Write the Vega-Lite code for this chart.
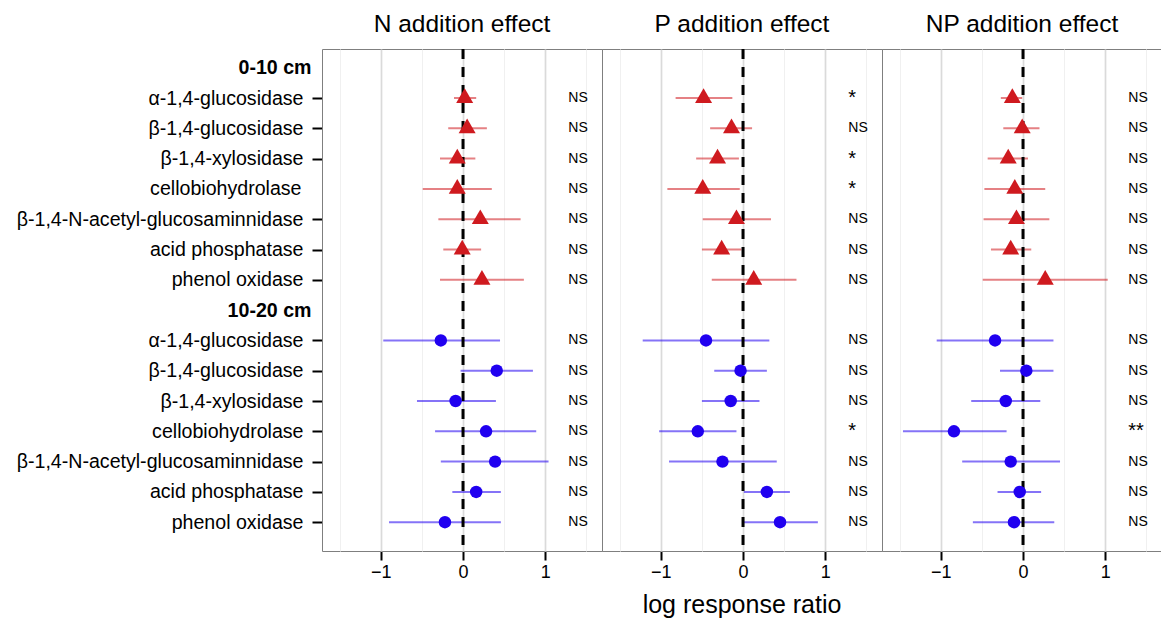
{
  "$schema": "https://vega.github.io/schema/vega-lite/v6.json",
  "padding": {"left": 16, "top": 11, "right": 0, "bottom": 0},
  "bounds": "flush",
  "config": {"font": "Liberation Sans", "view": {"stroke": "#7f7f7f", "strokeWidth": 1}},
  "data": {"values": [
    {"effect": "N addition effect", "depth": "0-10 cm", "row": "0-10 cm|α-1,4-glucosidase", "mean": 0.02, "lo": -0.11, "hi": 0.16, "sig": "NS"},
    {"effect": "N addition effect", "depth": "0-10 cm", "row": "0-10 cm|β-1,4-glucosidase", "mean": 0.05, "lo": -0.18, "hi": 0.29, "sig": "NS"},
    {"effect": "N addition effect", "depth": "0-10 cm", "row": "0-10 cm|β-1,4-xylosidase", "mean": -0.07, "lo": -0.28, "hi": 0.15, "sig": "NS"},
    {"effect": "N addition effect", "depth": "0-10 cm", "row": "0-10 cm|cellobiohydrolase", "mean": -0.07, "lo": -0.49, "hi": 0.35, "sig": "NS"},
    {"effect": "N addition effect", "depth": "0-10 cm", "row": "0-10 cm|β-1,4-N-acetyl-glucosaminnidase", "mean": 0.21, "lo": -0.30, "hi": 0.70, "sig": "NS"},
    {"effect": "N addition effect", "depth": "0-10 cm", "row": "0-10 cm|acid phosphatase", "mean": -0.01, "lo": -0.24, "hi": 0.22, "sig": "NS"},
    {"effect": "N addition effect", "depth": "0-10 cm", "row": "0-10 cm|phenol oxidase", "mean": 0.23, "lo": -0.28, "hi": 0.74, "sig": "NS"},
    {"effect": "N addition effect", "depth": "10-20 cm", "row": "10-20 cm|α-1,4-glucosidase", "mean": -0.27, "lo": -0.97, "hi": 0.45, "sig": "NS"},
    {"effect": "N addition effect", "depth": "10-20 cm", "row": "10-20 cm|β-1,4-glucosidase", "mean": 0.41, "lo": -0.03, "hi": 0.85, "sig": "NS"},
    {"effect": "N addition effect", "depth": "10-20 cm", "row": "10-20 cm|β-1,4-xylosidase", "mean": -0.09, "lo": -0.56, "hi": 0.40, "sig": "NS"},
    {"effect": "N addition effect", "depth": "10-20 cm", "row": "10-20 cm|cellobiohydrolase", "mean": 0.28, "lo": -0.34, "hi": 0.89, "sig": "NS"},
    {"effect": "N addition effect", "depth": "10-20 cm", "row": "10-20 cm|β-1,4-N-acetyl-glucosaminnidase", "mean": 0.39, "lo": -0.27, "hi": 1.04, "sig": "NS"},
    {"effect": "N addition effect", "depth": "10-20 cm", "row": "10-20 cm|acid phosphatase", "mean": 0.16, "lo": -0.13, "hi": 0.46, "sig": "NS"},
    {"effect": "N addition effect", "depth": "10-20 cm", "row": "10-20 cm|phenol oxidase", "mean": -0.22, "lo": -0.90, "hi": 0.46, "sig": "NS"},
    {"effect": "P addition effect", "depth": "0-10 cm", "row": "0-10 cm|α-1,4-glucosidase", "mean": -0.48, "lo": -0.82, "hi": -0.13, "sig": "*"},
    {"effect": "P addition effect", "depth": "0-10 cm", "row": "0-10 cm|β-1,4-glucosidase", "mean": -0.14, "lo": -0.40, "hi": 0.11, "sig": "NS"},
    {"effect": "P addition effect", "depth": "0-10 cm", "row": "0-10 cm|β-1,4-xylosidase", "mean": -0.31, "lo": -0.57, "hi": -0.05, "sig": "*"},
    {"effect": "P addition effect", "depth": "0-10 cm", "row": "0-10 cm|cellobiohydrolase", "mean": -0.49, "lo": -0.92, "hi": -0.04, "sig": "*"},
    {"effect": "P addition effect", "depth": "0-10 cm", "row": "0-10 cm|β-1,4-N-acetyl-glucosaminnidase", "mean": -0.08, "lo": -0.49, "hi": 0.34, "sig": "NS"},
    {"effect": "P addition effect", "depth": "0-10 cm", "row": "0-10 cm|acid phosphatase", "mean": -0.26, "lo": -0.50, "hi": -0.02, "sig": "NS"},
    {"effect": "P addition effect", "depth": "0-10 cm", "row": "0-10 cm|phenol oxidase", "mean": 0.13, "lo": -0.38, "hi": 0.65, "sig": "NS"},
    {"effect": "P addition effect", "depth": "10-20 cm", "row": "10-20 cm|α-1,4-glucosidase", "mean": -0.45, "lo": -1.22, "hi": 0.32, "sig": "NS"},
    {"effect": "P addition effect", "depth": "10-20 cm", "row": "10-20 cm|β-1,4-glucosidase", "mean": -0.03, "lo": -0.35, "hi": 0.29, "sig": "NS"},
    {"effect": "P addition effect", "depth": "10-20 cm", "row": "10-20 cm|β-1,4-xylosidase", "mean": -0.15, "lo": -0.50, "hi": 0.20, "sig": "NS"},
    {"effect": "P addition effect", "depth": "10-20 cm", "row": "10-20 cm|cellobiohydrolase", "mean": -0.55, "lo": -1.02, "hi": -0.08, "sig": "*"},
    {"effect": "P addition effect", "depth": "10-20 cm", "row": "10-20 cm|β-1,4-N-acetyl-glucosaminnidase", "mean": -0.25, "lo": -0.90, "hi": 0.41, "sig": "NS"},
    {"effect": "P addition effect", "depth": "10-20 cm", "row": "10-20 cm|acid phosphatase", "mean": 0.29, "lo": 0.01, "hi": 0.57, "sig": "NS"},
    {"effect": "P addition effect", "depth": "10-20 cm", "row": "10-20 cm|phenol oxidase", "mean": 0.45, "lo": 0.01, "hi": 0.91, "sig": "NS"},
    {"effect": "NP addition effect", "depth": "0-10 cm", "row": "0-10 cm|α-1,4-glucosidase", "mean": -0.13, "lo": -0.27, "hi": -0.01, "sig": "NS"},
    {"effect": "NP addition effect", "depth": "0-10 cm", "row": "0-10 cm|β-1,4-glucosidase", "mean": -0.01, "lo": -0.24, "hi": 0.20, "sig": "NS"},
    {"effect": "NP addition effect", "depth": "0-10 cm", "row": "0-10 cm|β-1,4-xylosidase", "mean": -0.18, "lo": -0.43, "hi": 0.06, "sig": "NS"},
    {"effect": "NP addition effect", "depth": "0-10 cm", "row": "0-10 cm|cellobiohydrolase", "mean": -0.10, "lo": -0.47, "hi": 0.27, "sig": "NS"},
    {"effect": "NP addition effect", "depth": "0-10 cm", "row": "0-10 cm|β-1,4-N-acetyl-glucosaminnidase", "mean": -0.08, "lo": -0.48, "hi": 0.32, "sig": "NS"},
    {"effect": "NP addition effect", "depth": "0-10 cm", "row": "0-10 cm|acid phosphatase", "mean": -0.15, "lo": -0.39, "hi": 0.10, "sig": "NS"},
    {"effect": "NP addition effect", "depth": "0-10 cm", "row": "0-10 cm|phenol oxidase", "mean": 0.27, "lo": -0.49, "hi": 1.03, "sig": "NS"},
    {"effect": "NP addition effect", "depth": "10-20 cm", "row": "10-20 cm|α-1,4-glucosidase", "mean": -0.34, "lo": -1.05, "hi": 0.37, "sig": "NS"},
    {"effect": "NP addition effect", "depth": "10-20 cm", "row": "10-20 cm|β-1,4-glucosidase", "mean": 0.04, "lo": -0.28, "hi": 0.37, "sig": "NS"},
    {"effect": "NP addition effect", "depth": "10-20 cm", "row": "10-20 cm|β-1,4-xylosidase", "mean": -0.21, "lo": -0.63, "hi": 0.21, "sig": "NS"},
    {"effect": "NP addition effect", "depth": "10-20 cm", "row": "10-20 cm|cellobiohydrolase", "mean": -0.84, "lo": -1.46, "hi": -0.20, "sig": "**"},
    {"effect": "NP addition effect", "depth": "10-20 cm", "row": "10-20 cm|β-1,4-N-acetyl-glucosaminnidase", "mean": -0.15, "lo": -0.74, "hi": 0.45, "sig": "NS"},
    {"effect": "NP addition effect", "depth": "10-20 cm", "row": "10-20 cm|acid phosphatase", "mean": -0.04, "lo": -0.31, "hi": 0.22, "sig": "NS"},
    {"effect": "NP addition effect", "depth": "10-20 cm", "row": "10-20 cm|phenol oxidase", "mean": -0.11, "lo": -0.61, "hi": 0.38, "sig": "NS"}
  ]},
  "facet": {
    "column": {
      "field": "effect", "type": "nominal",
      "sort": ["N addition effect", "P addition effect", "NP addition effect"],
      "title": "log response ratio",
      "header": {
        "labelOrient": "top", "titleOrient": "bottom",
        "labelFontSize": 24.5, "labelColor": "black", "labelPadding": 12,
        "titleFontSize": 25, "titleFontWeight": "normal", "titleColor": "black", "titlePadding": 2
      }
    }
  },
  "spacing": 0,
  "spec": {
    "width": 280,
    "height": 502,
    "layer": [
      {
        "mark": {"type": "rule", "strokeWidth": 2, "opacity": 0.55},
        "encoding": {
          "x": {
            "field": "lo", "type": "quantitative", "title": null,
            "scale": {"domain": [-1.715, 1.69], "nice": false, "zero": false},
            "axis": {
              "values": [-1.5, -1, -0.5, 0, 0.5, 1, 1.5],
              "format": "~f",
              "labelExpr": "datum.value % 1 == 0 ? datum.label : ''",
              "gridColor": {"condition": {"test": "datum.value % 1 != 0", "value": "#f0f0f0"}, "value": "#dadada"},
              "gridWidth": {"condition": {"test": "datum.value % 1 != 0", "value": 1}, "value": 1.7},
              "tickOpacity": {"condition": {"test": "datum.value % 1 != 0", "value": 0}, "value": 1},
              "tickSize": 9, "tickWidth": 2, "tickColor": "black",
              "domain": false, "labelFontSize": 18, "labelColor": "black", "labelPadding": 3,
              "labelFlush": false, "labelOverlap": false
            }
          },
          "x2": {"field": "hi"},
          "y": {
            "field": "row", "type": "nominal", "title": null,
            "scale": {
              "type": "point",
              "domain": ["0-10 cm", "0-10 cm|α-1,4-glucosidase", "0-10 cm|β-1,4-glucosidase", "0-10 cm|β-1,4-xylosidase", "0-10 cm|cellobiohydrolase", "0-10 cm|β-1,4-N-acetyl-glucosaminnidase", "0-10 cm|acid phosphatase", "0-10 cm|phenol oxidase", "10-20 cm", "10-20 cm|α-1,4-glucosidase", "10-20 cm|β-1,4-glucosidase", "10-20 cm|β-1,4-xylosidase", "10-20 cm|cellobiohydrolase", "10-20 cm|β-1,4-N-acetyl-glucosaminnidase", "10-20 cm|acid phosphatase", "10-20 cm|phenol oxidase"],
              "padding": 0.784, "align": 0.394
            },
            "axis": {
              "labelExpr": "indexof(datum.value, '|') >= 0 ? split(datum.value, '|')[1] : datum.value",
              "labelFontSize": 19.6, "labelColor": "black", "labelLimit": 400,
              "labelFontWeight": {"condition": {"test": "indexof(datum.value, '|') < 0", "value": "bold"}, "value": "normal"},
              "labelPadding": {"condition": [{"test": "indexof(datum.value, '|') < 0", "value": 1}, {"test": "datum.value == '0-10 cm|cellobiohydrolase'", "value": 11}], "value": 9},
              "tickOpacity": {"condition": {"test": "indexof(datum.value, '|') < 0 || datum.value == '0-10 cm|cellobiohydrolase'", "value": 0}, "value": 1},
              "tickSize": 10, "tickWidth": 2, "tickColor": "black",
              "gridColor": "#dadada", "gridWidth": 1.7, "domain": false
            }
          },
          "color": {
            "field": "depth", "type": "nominal", "legend": null,
            "scale": {"domain": ["0-10 cm", "10-20 cm"], "range": ["#cf1a1f", "#2000f0"]}
          }
        }
      },
      {
        "transform": [{"filter": "datum.row == '0-10 cm|α-1,4-glucosidase'"}],
        "mark": {"type": "rule", "strokeDash": [10, 8], "strokeWidth": 3, "color": "black"},
        "encoding": {"x": {"datum": 0, "type": "quantitative", "title": null}}
      },
      {
        "mark": {"type": "point", "filled": true, "opacity": 1, "strokeWidth": 0},
        "encoding": {
          "x": {"field": "mean", "type": "quantitative", "title": null},
          "y": {"field": "row", "type": "nominal", "title": null},
          "color": {"field": "depth", "type": "nominal", "legend": null},
          "shape": {
            "field": "depth", "type": "nominal", "legend": null,
            "scale": {"domain": ["0-10 cm", "10-20 cm"], "range": ["M0,-1.155L-1,0.577L1,0.577Z", "circle"]}
          },
          "size": {
            "field": "depth", "type": "nominal", "legend": null,
            "scale": {"domain": ["0-10 cm", "10-20 cm"], "range": [289, 155]}
          }
        }
      },
      {
        "mark": {"type": "text", "align": "left", "baseline": "middle", "color": "black"},
        "encoding": {
          "x": {"datum": 1.28, "type": "quantitative", "title": null},
          "y": {"field": "row", "type": "nominal", "title": null},
          "text": {"field": "sig"},
          "size": {"condition": {"test": "datum.sig != 'NS'", "value": 20}, "value": 14}
        }
      }
    ]
  }
}
